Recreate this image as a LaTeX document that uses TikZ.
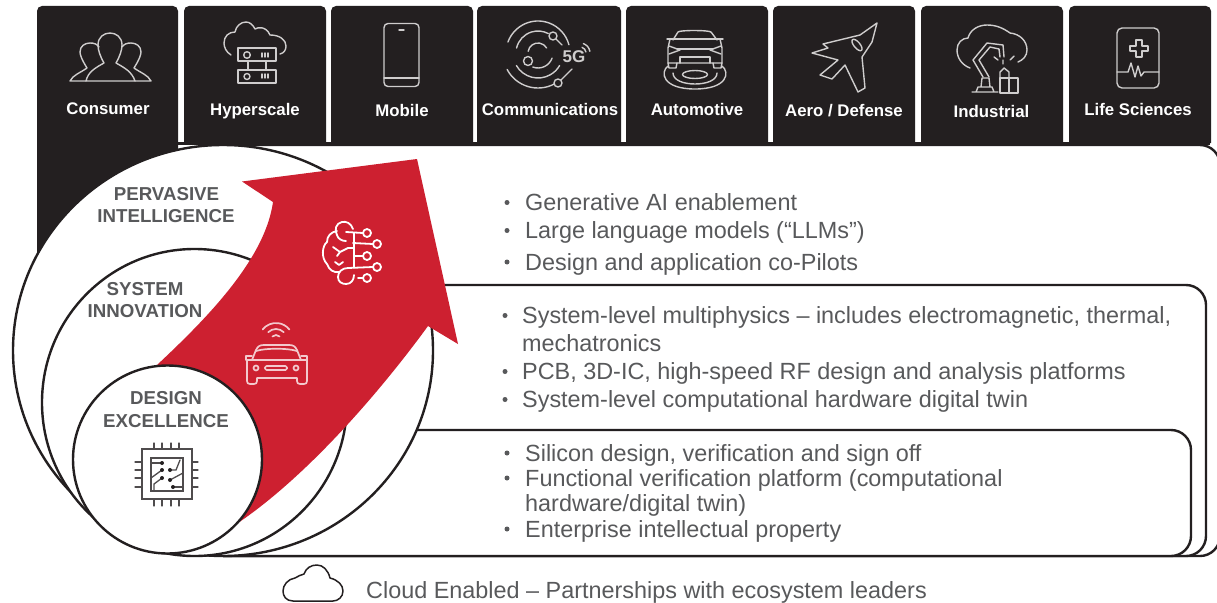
\documentclass[tikz,border=0pt]{standalone}
\usepackage{fontspec}
\setmainfont{Liberation Sans}
\definecolor{ink}{HTML}{231F20}
\definecolor{gtext}{HTML}{58595B}
\definecolor{redarrow}{HTML}{CD2030}
\definecolor{iconline}{HTML}{CFCDCD}
\definecolor{carline}{HTML}{F3C9CD}
\newcommand{\arcd}[5]{\draw[#1] ([shift={(#4:#3)}]#2) arc[start angle=#4,end angle=#5,radius=#3];}
\tikzset{
  tablabel/.style={font=\fontsize{16.8}{18}\selectfont\bfseries,text=white,inner sep=0pt,anchor=base},
  ringlabel/.style={font=\fontsize{18.7}{20}\selectfont\bfseries,text=gtext,inner sep=0pt,anchor=center},
  itemtext/.style={font=\fontsize{23.4}{26}\selectfont,text=gtext,inner sep=0pt,anchor=base west},
  panel/.style={draw=ink,line width=2.4pt,fill=white,rounded corners=20pt},
  ring/.style={draw=ink,line width=2.4pt,fill=white},
  ico/.style={draw=iconline,line width=1.4pt,line cap=round,line join=round},
  wico/.style={draw=white,line width=1.8pt,line cap=round,line join=round},
  cico/.style={draw=carline,line width=1.7pt,line cap=round,line join=round},
  chipico/.style={draw=ink!80,line width=1.3pt,line cap=round,line join=miter},
}
\begin{document}
\begin{tikzpicture}[x=1pt,y=-1pt]
\useasboundingbox (0,0) rectangle (1217,602);
\clip (0,0) rectangle (1217,602);
% tabs
\fill[ink] (178,142) rectangle (1210,145);
\fill[ink] (37,280) [rounded corners=5pt] -- (37,6) -- (178,6) [sharp corners] -- (178,280) -- cycle;
\foreach \l/\r in {184/326,331/473,477/621,626/768,773/915,921/1063,1069/1211}{
  \fill[ink] (\l,143) [rounded corners=5pt] -- (\l,6) -- (\r,6) [sharp corners] -- (\r,143) -- cycle;
}
% panels
\path[panel] (223,145) -- (1220,145) -- (1220,556) -- (223,556);
\path[panel] (250,285) -- (1206,285) -- (1206,556) -- (223,556);
\path[panel] (300,430) -- (1191,430) -- (1191,556) -- (223,556);
% rings and arrow
\path[ring] (223,350.5) circle[x radius=210,y radius=205.5];
\path[ring] (194.5,402.5) circle[x radius=152.5,y radius=153.5];
\fill[redarrow] (417,159) -- (242,181.5) -- (273,202) .. controls (265,260) and (205,320) .. (157,365)
  -- (235,525) .. controls (310,475) and (385,385) .. (428,326) -- (458,344) -- cycle;
\path[ring] (167.5,459.5) circle[x radius=94.5,y radius=94];
% ring labels
\node[ringlabel] (l1a) at (166.5,194) {PERVASIVE};
\node[ringlabel] (l1b) at (166,216) {INTELLIGENCE};
\node[ringlabel] (l2a) at (145,289) {SYSTEM};
\node[ringlabel] (l2b) at (145,311) {INNOVATION};
\node[ringlabel] (l3a) at (166,398) {DESIGN};
\node[ringlabel] (l3b) at (166,421) {EXCELLENCE};
% tab labels
\node[tablabel] (t1) at (108,114) {Consumer};
\node[tablabel] (t2) at (255,115) {Hyperscale};
\node[tablabel] (t3) at (402,116) {Mobile};
\node[tablabel] (t4) at (550,115.5) {Communications};
\node[tablabel] (t5) at (697,115) {Automotive};
\node[tablabel] (t6) at (844,116.5) {Aero / Defense};
\node[tablabel] (t7) at (991.5,117) {Industrial};
\node[tablabel] (t8) at (1138,115.5) {Life Sciences};
% list text
\foreach \n/\bx/\tx/\by/\s in {
 a1/507/525/210.5/{Generative AI enablement},
 a2/507/525/238.5/{Large language models (“LLMs”)},
 a3/507/525/270/{Design and application co-Pilots},
 b1/505/522/323.5/{System-level multiphysics – includes electromagnetic, thermal,},
 b3/505/522/379.5/{PCB, 3D-IC, high-speed RF design and analysis platforms},
 b4/505/522/407.5/{System-level computational hardware digital twin},
 c1/507/525/461/{Silicon design, verification and sign off},
 c2/507/525/486/{Functional verification platform (computational},
 c4/507/525/537/{Enterprise intellectual property}}{
  \node[itemtext] (\n) at (\tx,\by) {\s};
  \fill[gtext] (\bx,\by-8) circle[radius=2.5];
}
\node[itemtext] (b2) at (522,351) {mechatronics};
\node[itemtext] (c3) at (525,511) {hardware/digital twin)};
\node[itemtext] (foot) at (366,598) {Cloud Enabled – Partnerships with ecosystem leaders};
% footer cloud
\draw[draw=ink,line width=1.5pt,line join=round] (293,601) .. controls (286,601) and (283,596) .. (283,591) .. controls (283,585) and (288,579) .. (295,578) .. controls (298,576) and (301,575) .. (304,574) .. controls (306,568) and (311,565) .. (317,565) .. controls (323,565) and (328,570) .. (330,578) .. controls (338,580) and (343,585) .. (343,591) .. controls (343,597) and (338,601) .. (333,601) -- cycle;
% consumer icon
\draw[ico] (86,81) .. controls (88,72) and (95,68) .. (104,63) .. controls (100,56) and (98,50) .. (98,45) .. controls (98,37) and (104,33) .. (110,33) .. controls (116,33) and (122,37) .. (122,45) .. controls (122,50) and (120,56) .. (116,63) .. controls (125,68) and (132,72) .. (135,81) -- cycle;
\draw[ico] (86,81) -- (70,81) .. controls (73,75) and (80,73) .. (87,68) .. controls (82,60) and (80,55) .. (80,52) .. controls (80,46) and (85,43) .. (90,43) .. controls (94,43) and (97,44) .. (99,47);
\draw[ico] (135,81) -- (151,81) .. controls (148,75) and (141,73) .. (134,68) .. controls (139,60) and (141,55) .. (141,52) .. controls (141,46) and (136,43) .. (131,43) .. controls (127,43) and (124,44) .. (122,47);
% hyperscale icon
\draw[ico] (231,55) .. controls (226,52) and (224,47) .. (224,43) .. controls (224,36) and (229,32) .. (235,32) .. controls (236,26) and (241,22) .. (246,22) .. controls (250,22) and (253,25) .. (255,29) .. controls (258,27) and (266,26) .. (270,35) .. controls (280,35) and (286,40) .. (286,46) .. controls (286,50) and (284,53) .. (280,54);
\draw[ico] (238,48) rectangle (276,61);
\draw[ico] (238,70) rectangle (276,83);
\draw[ico] (248,61) -- (248,70) (266,61) -- (266,70);
\draw[ico] (247,55) circle[radius=3.3] (247,76.5) circle[radius=3];
\draw[ico] (262,53) -- (262,57) (265,53) -- (265,57) (268,53) -- (268,57);
\draw[ico] (262,74) -- (262,78) (265,74) -- (265,78) (268,74) -- (268,78);
% mobile icon
\draw[ico,rounded corners=4pt] (384,23.5) rectangle (419,86.5);
\draw[ico] (384,78) -- (419,78);
\draw[ico] (399,30) -- (404,30);
% communications icon
\arcd{ico}{538,53}{32}{-160}{-15}
\arcd{ico}{538,53}{22}{-167}{-62}
\arcd{ico}{538,53}{10}{-170}{-30}
\arcd{ico}{538,53}{15}{110}{20}
\arcd{ico}{538,53}{25}{150}{30}
\arcd{ico}{538,53}{35}{152}{62}
\draw[ico] (553,36) circle[radius=4] (556,39) -- (562,45);
\draw[ico] (528,61) circle[radius=4.5];
\draw[ico] (558,83) circle[radius=4] (561,80) -- (572,69);
\node[font=\fontsize{17}{17}\selectfont\bfseries,text=iconline,inner sep=0pt] (fiveg) at (574,57) {5G};
\arcd{ico}{580,53}{6}{-70}{-10}
\arcd{ico}{580,53}{10}{-70}{-10}
% automotive icon
\draw[ico] (695,74.5) circle[x radius=12.5,y radius=4];
\draw[ico] (673,73) .. controls (673,80) and (683,84) .. (695,84) .. controls (707,84) and (717,80) .. (717,73);
\draw[ico] (668,66) .. controls (660,72) and (662,89) .. (695,89) .. controls (728,89) and (730,72) .. (722,66);
\draw[ico] (673,40) -- (678,32) .. controls (680,30) and (708,30) .. (711,32) -- (717,40);
\draw[ico] (667,39) -- (723,39);
\draw[ico] (670,39) -- (668,48) -- (668,63) -- (722,63) -- (722,48) -- (720,39);
\draw[ico] (677,49) -- (713,49);
\draw[ico] (669,46) -- (680,50) -- (669,54);
\draw[ico] (721,46) -- (710,50) -- (721,54);
\draw[ico] (680,63) -- (680,57) -- (710,57) -- (710,63);
\draw[ico] (668,63) -- (669,68) -- (676,68) -- (677,63) (722,63) -- (721,68) -- (714,68) -- (713,63);
% aero icon
\draw[ico] (877,23) -- (860,35) -- (823,44) -- (828,48) -- (812,53) -- (838,60) -- (820,75) -- (832,79) -- (845,65) -- (858,92) -- (865,88) -- (862,57) -- (872,42) -- cycle;
\draw[ico,rotate around={-50:(857,45)}] (857,45) circle[x radius=7,y radius=3];
% industrial icon
\draw[ico] (970,68) .. controls (962,65) and (957,58) .. (957,50) .. controls (957,43) and (962,38) .. (968,38) .. controls (970,30) and (978,25) .. (987,25) .. controls (996,25) and (1003,28) .. (1010,33) .. controls (1020,34) and (1027,41) .. (1027,50) .. controls (1027,56) and (1023,60) .. (1018,62);
\draw[ico] (972,92) -- (998,92) (976,92) -- (978,87) -- (992,87) -- (994,92) (981,87) -- (982,78) -- (989,78) -- (990,87);
\draw[ico] (983,77) -- (973,60) -- (987,43) -- (1003,45) -- (1004,57);
\draw[ico] (989,77) -- (979,60) -- (990,47) -- (999,49) -- (1000,57);
\draw[ico] (1000,78) rectangle (1018,93);
\draw[ico] (1009,78) -- (1009,93);
\draw[ico] (1000,78) -- (1000,72) -- (1004,68) -- (1009,72) -- (1009,78);
\draw[ico] (994,57) -- (998,60) (1014,56) -- (1010,60) (1003,60) -- (1003,64);
% life sciences icon
\draw[ico,rounded corners=5pt] (1117,28) rectangle (1159,88);
\draw[ico] (1117,72) -- (1128,72) -- (1131,63) -- (1135,77) -- (1138,66) -- (1141,76) -- (1144,72) -- (1159,72);
\draw[ico] (1136,40) -- (1142,40) -- (1142,46) -- (1148,46) -- (1148,51) -- (1142,51) -- (1142,57) -- (1136,57) -- (1136,51) -- (1130,51) -- (1130,46) -- (1136,46) -- cycle;
% brain icon
\draw[wico] (367,233) circle[radius=4] (377,244) circle[radius=4] (367,256) circle[radius=4] (367,278) circle[radius=4] (377,267) circle[radius=4];
\draw[wico] (346,232) -- (363,233) (353,243) -- (373,244) (354,256) -- (363,256) (348,268) -- (373,267) (358,278) -- (363,278) (354,233) -- (354,268);
\draw[wico] (353,229) .. controls (351,223) and (346,221) .. (342,222) .. controls (336,223) and (334,230) .. (337,235) .. controls (338,239) and (342,241) .. (346,241);
\draw[wico] (337,231) .. controls (331,232) and (327,236) .. (327,242) .. controls (322,246) and (321,258) .. (327,264) .. controls (329,270) and (334,273) .. (339,272);
\draw[wico] (333,247) -- (340,252) -- (348,248) -- (354,248) (340,252) -- (337,256);
\draw[wico] (335,262) -- (339,265) -- (343,262);
\draw[wico] (348,268) .. controls (342,268) and (338,272) .. (338,277) .. controls (338,282) and (342,284) .. (346,284) .. controls (351,284) and (354,280) .. (354,275);
% car icon
\arcd{cico}{276,340}{5}{-135}{-45}
\arcd{cico}{276,340}{11}{-135}{-45}
\arcd{cico}{276,340}{17}{-142}{-38}
\draw[cico] (252,360) -- (256,350) .. controls (258,346) and (260,345) .. (264,345) -- (289,345) .. controls (293,345) and (295,346) .. (297,350) -- (301,360);
\draw[cico] (256,351) .. controls (265,348) and (288,348) .. (297,351);
\draw[cico] (252,356) -- (246,356) -- (246,360) -- (250,360) (301,356) -- (307,356) -- (307,360) -- (303,360);
\draw[cico] (247,360) -- (247,381) .. controls (247,383) and (248,384) .. (250,384) -- (254,384) .. controls (256,384) and (257,383) .. (257,381) -- (257,378) -- (297,378) -- (297,381) .. controls (297,383) and (298,384) .. (300,384) -- (304,384) .. controls (306,384) and (307,383) .. (307,381) -- (307,360);
\draw[cico] (250,360) -- (303,360);
\draw[cico] (256,368) circle[radius=2.5] (296,368) circle[radius=2.5];
\draw[cico,rounded corners=1.5pt] (265,366) rectangle (287,370);
% chip icon
\draw[chipico] (142,449) rectangle (192,499);
\draw[chipico] (151,458) rectangle (183,491);
\foreach \p in {154,162,171,179}{ \draw[chipico] (\p,443) -- (\p,449) (\p,499) -- (\p,506); }
\foreach \p in {462,470,478,487}{ \draw[chipico] (135,\p) -- (142,\p) (192,\p) -- (198,\p); }
\draw[chipico] (151,463) -- (162,463);
\draw[chipico] (151,478) -- (162,470);
\draw[chipico] (154,491) -- (154,484) -- (162,478);
\draw[chipico] (170,470) -- (176,470) -- (180,460);
\draw[chipico] (170,480) -- (183,473);
\draw[chipico] (173,487) -- (183,487);
\fill[ink] (162,463) circle[radius=2] (162,470) circle[radius=2] (162,478) circle[radius=2] (170,470) circle[radius=2] (170,480) circle[radius=2] (173,487) circle[radius=2];
\end{tikzpicture}
\end{document}
